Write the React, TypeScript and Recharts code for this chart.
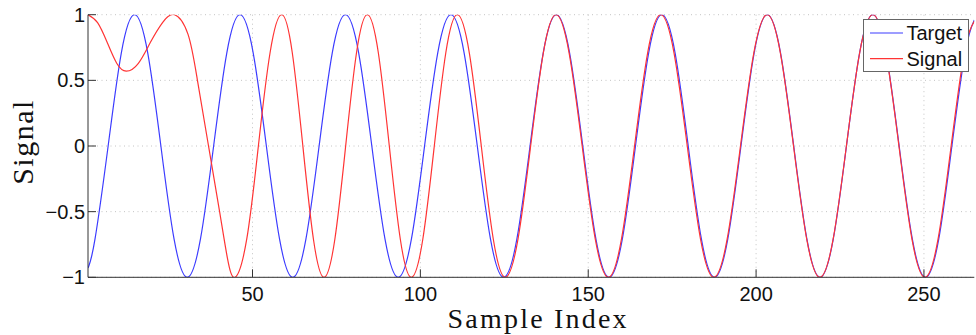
import React from 'react';
import { LineChart, Line, XAxis, YAxis, CartesianGrid, Legend, Label } from 'recharts';

// Sample positions / values (Target, blue)
const targetX = [
  1, 3.08, 7.0, 10.93, 14.86, 18.79, 22.71, 26.64, 30.57, 34.49, 38.42, 42.35, 46.27,
  50.2, 54.13, 58.06, 61.98, 65.91, 69.84, 73.76, 77.69, 81.62, 85.54, 89.47, 93.4,
  97.33, 101.25, 105.18, 109.11, 113.03, 116.96, 120.89, 124.81, 128.74, 132.67, 136.6,
  140.52, 144.45, 148.38, 152.3, 156.23, 160.16, 164.08, 168.01, 171.94, 175.87, 179.79,
  183.72, 187.65, 191.57, 195.5, 199.43, 203.35, 207.28, 211.21, 215.14, 219.06, 222.99,
  226.92, 230.84, 234.77, 238.7, 242.62, 246.55, 250.48, 254.41, 258.33, 262.26, 265,
];
const targetY = [
  -0.93,
  -0.71, 0, 0.71, 1, 0.71, 0, -0.71, -1,
  -0.71, 0, 0.71, 1, 0.71, 0, -0.71, -1,
  -0.71, 0, 0.71, 1, 0.71, 0, -0.71, -1,
  -0.71, 0, 0.71, 1, 0.71, 0, -0.71, -1,
  -0.71, 0, 0.71, 1, 0.71, 0, -0.71, -1,
  -0.71, 0, 0.71, 1, 0.71, 0, -0.71, -1,
  -0.71, 0, 0.71, 1, 0.71, 0, -0.71, -1,
  -0.71, 0, 0.71, 1, 0.71, 0, -0.71, -1,
  -0.71, 0, 0.71,
  0.96,
];

// Sample positions / values (Signal, red)
const signalX = [
  1, 3.85, 6.7, 9.55, 12.4, 16.0, 19.6, 23.2, 26.8,
  30.8, 33.6, 36.9, 40.2, 42.5, 44.8,
  48.28, 51.75, 55.23, 58.7,
  61.85, 65.0, 68.15, 71.3,
  74.53, 77.75, 80.98, 84.2,
  87.48, 90.75, 94.03, 97.3,
  100.73, 104.15, 107.58, 111.0,
  114.58, 118.15, 121.73, 125.3,
  129.08, 132.85, 136.63, 140.4,
  144.3, 148.2, 152.1, 156.0,
  159.9, 163.8, 167.7, 171.6,
  175.55, 179.5, 183.45, 187.4,
  191.38, 195.35, 199.33, 203.3,
  207.23, 211.15, 215.08, 219.0,
  222.95, 226.9, 230.85, 234.8,
  238.68, 242.55, 246.43, 250.3,
  254.2, 258.1, 262.0, 265,
];
const signalY = [
  1, 0.94, 0.79, 0.63, 0.57, 0.63, 0.79, 0.94, 1,
  0.85, 0.5, 0, -0.5, -0.85, -1,
  -0.71, 0, 0.71, 1,
  0.71, 0, -0.71, -1,
  -0.71, 0, 0.71, 1,
  0.71, 0, -0.71, -1,
  -0.71, 0, 0.71, 1,
  0.71, 0, -0.71, -1,
  -0.71, 0, 0.71, 1,
  0.71, 0, -0.71, -1,
  -0.71, 0, 0.71, 1,
  0.71, 0, -0.71, -1,
  -0.71, 0, 0.71, 1,
  0.71, 0, -0.71, -1,
  -0.71, 0, 0.71, 1,
  0.71, 0, -0.71, -1,
  -0.71, 0, 0.71, 0.95,
];

const xTicks = [50, 100, 150, 200, 250];
const yTicks = [-1, -0.5, 0, 0.5, 1];
const xDomain = [1, 265];
const yDomain = [-1, 1];
const seriesNames = ['Target', 'Signal'];
const xTitle = 'Sample Index';
const yTitle = 'Signal';

const targetData = targetX.map((x, i) => ({ x, v: targetY[i] }));
const signalData = signalX.map((x, i) => ({ x, v: signalY[i] }));

const TICK_FONT = '"Liberation Sans", Arial, Helvetica, sans-serif';
const LABEL_FONT = '"Liberation Serif", "Times New Roman", serif';
const AXIS = '#333333';
const BLUE = '#3c3cff';
const RED = '#ff3434';

const fmt = (v: number) => String(v).replace('-', '\u2212');

function XTick(props: any) {
  const { x, y, payload } = props;
  const axisY = y - 9;
  return (
    <g>
      <line x1={x} x2={x} y1={axisY} y2={axisY - 8} stroke={AXIS} strokeWidth={1} />
      <text x={x} y={y} dy="0.71em" textAnchor="middle" fontFamily={TICK_FONT} fontSize={20} fill="#111">
        {fmt(payload.value)}
      </text>
    </g>
  );
}

function YTick(props: any) {
  const { x, y, payload } = props;
  const axisX = x + 3;
  return (
    <g>
      <line x1={axisX} x2={axisX + 8} y1={y} y2={y} stroke={AXIS} strokeWidth={1} />
      <text x={x} y={y} dy="0.355em" textAnchor="end" fontFamily={TICK_FONT} fontSize={20} fill="#111">
        {fmt(payload.value)}
      </text>
    </g>
  );
}

function renderLegend(props: any) {
  const payload = (props && props.payload) || [];
  const items = seriesNames.map((name, i) => {
    const p = payload.find((e: any) => e.value === name);
    return { name, color: p ? p.color : i === 0 ? BLUE : RED };
  });
  return (
    <svg width={106} height={53} style={{ display: 'block' }}>
      <rect x={0.5} y={0.5} width={105} height={52} fill="#ffffff" stroke="#666666" strokeWidth={1} />
      {items.map((it, i) => (
        <g key={it.name}>
          <line x1={7} x2={40} y1={14 + i * 25.7} y2={14 + i * 25.7} stroke={it.color} strokeWidth={1.2} />
          <text x={43.5} y={21.4 + i * 25.7} fontFamily={TICK_FONT} fontSize={20} fill="#111">
            {it.name}
          </text>
        </g>
      ))}
    </svg>
  );
}

export default function App() {
  return (
    <div style={{ position: 'absolute', left: 0, top: 0, width: 976, height: 335, background: '#fff' }}>
      <LineChart width={976} height={335} margin={{ top: 14.7, right: 1.7, bottom: 27.7, left: 0 }}>
        <CartesianGrid stroke="#c4c4c4" strokeDasharray="1 3.5" horizontalValues={yTicks} verticalValues={xTicks} />
        <XAxis
          dataKey="x"
          type="number"
          domain={xDomain}
          ticks={xTicks}
          allowDataOverflow
          height={30}
          tickSize={0}
          tickMargin={9}
          tickLine={false}
          axisLine={{ stroke: AXIS, strokeWidth: 1 }}
          tick={<XTick />}
        >
          <Label
            content={({ viewBox }: any) => (
              <text
                x={viewBox.x + viewBox.width / 2 + 7}
                y={viewBox.y + 50.5}
                textAnchor="middle"
                fontFamily={LABEL_FONT}
                fontSize={28}
                letterSpacing={2.2}
                fill="#111"
              >
                {xTitle}
              </text>
            )}
          />
        </XAxis>
        <YAxis
          type="number"
          domain={yDomain}
          ticks={yTicks}
          allowDataOverflow
          width={88}
          tickSize={0}
          tickMargin={3}
          tickLine={false}
          axisLine={{ stroke: AXIS, strokeWidth: 1 }}
          tick={<YTick />}
        >
          <Label
            content={({ viewBox }: any) => {
              const cy = viewBox.y + viewBox.height / 2 - 4;
              return (
                <text
                  x={33.3}
                  y={cy}
                  transform={`rotate(-90, 33.3, ${cy})`}
                  textAnchor="middle"
                  fontFamily={LABEL_FONT}
                  fontSize={30}
                  letterSpacing={1.5}
                  fill="#111"
                >
                  {yTitle}
                </text>
              );
            }}
          />
        </YAxis>
        <Legend
          layout="vertical"
          align="center"
          verticalAlign="middle"
          content={renderLegend}
          wrapperStyle={{ left: 862.7, top: 19.3, width: 106, height: 53 }}
        />
        <Line
          data={targetData}
          dataKey="v"
          name={seriesNames[0]}
          type="natural"
          stroke={BLUE}
          strokeWidth={1.2}
          dot={false}
          activeDot={false}
          isAnimationActive={false}
        />
        <Line
          data={signalData}
          dataKey="v"
          name={seriesNames[1]}
          type="natural"
          stroke={RED}
          strokeWidth={1.2}
          dot={false}
          activeDot={false}
          isAnimationActive={false}
        />
      </LineChart>
    </div>
  );
}
